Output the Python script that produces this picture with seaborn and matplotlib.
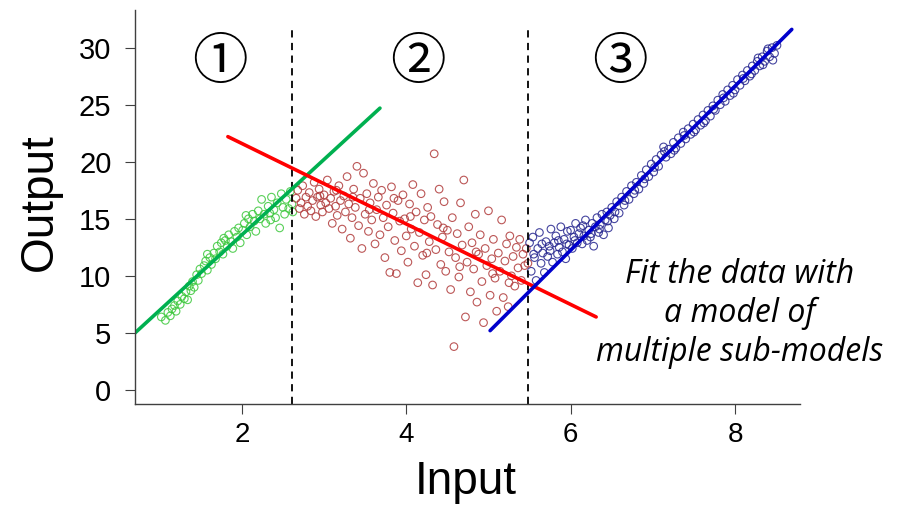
#=====================================================================================================
# Program Name     : PiecewiseSubModelFit
# Description      : Scatter of Input vs Output split into three regimes, each with its own
#                    straight-line sub-model, plus the dashed regime boundaries.
# Output           : out.png
#=====================================================================================================

import pandas as pd
import matplotlib
matplotlib.use("Agg")
import matplotlib.pyplot as plt
import seaborn as sns

# ---------------------------------------------------------------------------------------------------
# Data
# ---------------------------------------------------------------------------------------------------
green_x = [1.07, 1.02, 1.10, 1.13, 1.15, 1.18, 1.20, 1.22, 1.25, 1.27, 1.30, 1.32, 1.34, 1.36, 1.38,
           1.40, 1.42, 1.45, 1.47, 1.49, 1.51, 1.54, 1.56, 1.58, 1.61, 1.63, 1.66, 1.68, 1.70, 1.73,
           1.75, 1.77, 1.80, 1.82, 1.84, 1.87, 1.89, 1.91, 1.94, 1.96, 1.98, 2.01, 2.03, 2.06, 2.08,
           2.10, 2.13, 2.15, 2.17, 2.20, 2.22, 2.24, 2.27, 2.29, 2.32, 2.34, 2.36, 2.39, 2.41, 2.43,
           2.46, 2.48, 2.50, 2.52, 2.54, 2.57, 2.59, 2.61, 2.62, 1.58, 1.78, 2.05, 2.35]
green_y = [6.1, 6.4, 6.8, 6.5, 7.1, 7.4, 6.9, 7.8, 7.5, 8.2, 8.0, 8.6, 7.9, 9.1, 8.7,
           9.5, 9.0, 10.1, 9.6, 10.6, 10.2, 10.9, 11.3, 10.5, 11.6, 11.0, 12.0, 11.5, 12.6, 12.1,
           12.9, 11.9, 13.1, 12.6, 13.6, 13.0, 12.4, 13.9, 13.4, 14.2, 12.9, 14.0, 14.6, 13.6, 15.0,
           14.3, 15.4, 14.8, 13.9, 15.7, 15.0, 16.7, 15.4, 14.6, 16.1, 15.5, 16.9, 15.8, 15.1, 16.4,
           14.2, 17.2, 16.0, 15.4, 16.7, 15.9, 17.4, 16.3, 15.6, 11.9, 13.3, 15.3, 14.9]

red_x = [2.66, 2.68, 2.70, 2.72, 2.74, 2.76, 2.78, 2.80, 2.82, 2.84, 2.86, 2.88, 2.90, 2.92, 2.94,
         2.96, 2.98, 3.00, 3.02, 3.04, 3.06, 3.08, 3.10, 3.12, 3.14, 3.16, 3.18, 3.20, 3.22, 3.24,
         3.26, 3.28, 3.30, 3.32, 3.34, 3.36, 3.38, 3.40, 3.42, 3.44, 3.46, 3.48, 3.50, 3.52, 3.54,
         3.56, 3.58, 3.60, 3.62, 3.64, 3.66, 3.68, 3.70, 3.72, 3.74, 3.76, 3.78, 3.80, 3.82, 3.84,
         3.86, 3.88, 3.90, 3.92, 3.94, 3.96, 3.98, 4.00, 4.02, 4.04, 4.06, 4.08, 4.10, 4.12, 4.14,
         4.16, 4.18, 4.20, 4.22, 4.24, 4.26, 4.28, 4.30, 4.32, 4.34, 4.36, 4.38, 4.40, 4.42, 4.44,
         4.46, 4.48, 4.50, 4.52, 4.54, 4.56, 4.58, 4.60, 4.62, 4.64, 4.66, 4.68, 4.70, 4.72, 4.74,
         4.76, 4.78, 4.80, 4.82, 4.84, 4.86, 4.88, 4.90, 4.92, 4.94, 4.96, 4.98, 5.00, 5.02, 5.04,
         5.06, 5.08, 5.10, 5.12, 5.14, 5.16, 5.18, 5.20, 5.22, 5.24, 5.26, 5.28, 5.30, 5.32, 5.34,
         5.36, 5.38, 5.40, 5.42, 5.44, 5.46, 5.48, 3.15, 3.55, 3.85, 4.05, 4.25, 4.45, 4.65, 4.85,
         5.05, 5.25, 2.95, 3.35]
red_y = [16.8, 17.5, 15.9, 16.4, 17.9, 15.4, 16.9, 16.1, 17.3, 15.7, 16.6, 18.2, 15.2, 16.9, 17.6,
         16.2, 15.6, 17.1, 16.4, 18.4, 15.9, 16.8, 14.6, 17.4, 16.1, 15.3, 17.9, 16.6, 14.1, 17.0,
         15.6, 18.7, 16.3, 13.3, 15.1, 17.6, 16.0, 19.6, 14.4, 16.8, 12.4, 19.0, 15.4, 17.2, 13.9,
         16.4, 14.9, 18.1, 12.8, 15.8, 16.9, 13.6, 17.5, 15.1, 11.6, 16.2, 14.3, 10.3, 17.8, 15.5,
         13.1, 10.2, 16.6, 14.8, 12.2, 17.1, 15.0, 13.5, 11.2, 16.3, 14.1, 18.0, 12.6, 15.6, 9.4,
         13.8, 17.2, 11.8, 14.9, 10.1, 16.0, 13.0, 15.2, 9.2, 20.7, 12.3, 14.5, 17.6, 11.0, 13.4,
         16.5, 10.4, 14.0, 12.1, 8.8, 15.1, 3.8, 11.6, 13.7, 9.9, 16.4, 12.7, 18.4, 6.4, 11.2,
         14.3, 8.6, 12.9, 10.6, 15.4, 7.7, 11.9, 13.6, 9.5, 5.9, 12.4, 10.9, 15.7, 8.3, 11.5,
         13.2, 9.8, 6.9, 12.0, 10.4, 14.9, 8.1, 11.3, 12.8, 7.3, 13.5, 10.0, 11.7, 9.1, 12.5,
         10.7, 13.2, 9.6, 11.9, 10.9, 12.4, 11.1, 17.5, 15.8, 16.8, 15.2, 12.0, 14.2, 10.8, 12.1,
         10.2, 9.4, 17.0, 16.9]

blue_x = [5.50, 5.52, 5.54, 5.56, 5.58, 5.60, 5.62, 5.64, 5.66, 5.68, 5.70, 5.72, 5.74, 5.76, 5.78,
          5.80, 5.82, 5.84, 5.86, 5.88, 5.90, 5.92, 5.94, 5.96, 5.98, 6.00, 6.02, 6.04, 6.06, 6.08,
          6.10, 6.12, 6.14, 6.16, 6.18, 6.20, 6.22, 6.24, 6.26, 6.28, 6.30, 6.32, 6.34, 6.36, 6.38,
          6.40, 6.42, 6.44, 6.46, 6.48, 6.50, 6.53, 6.56, 6.59, 6.62, 6.65, 6.68, 6.71, 6.74, 6.77,
          6.80, 6.83, 6.86, 6.89, 6.92, 6.95, 6.98, 7.01, 7.04, 7.07, 7.10, 7.13, 7.16, 7.19, 7.22,
          7.25, 7.28, 7.31, 7.34, 7.37, 7.40, 7.43, 7.46, 7.49, 7.52, 7.55, 7.58, 7.61, 7.64, 7.67,
          7.70, 7.73, 7.76, 7.79, 7.82, 7.85, 7.88, 7.91, 7.94, 7.97, 8.00, 8.03, 8.06, 8.09, 8.12,
          8.15, 8.18, 8.21, 8.24, 8.27, 8.30, 8.33, 8.36, 8.39, 8.42, 8.45, 8.48, 8.51, 8.46, 8.40,
          8.34, 8.28, 8.20, 8.10, 7.98, 7.86, 7.74, 7.62, 7.50, 7.38, 7.26, 7.14, 7.02, 6.90, 6.78,
          6.66, 6.54, 6.45, 6.35, 6.25, 6.15, 6.05, 5.95, 5.85, 5.75, 5.65, 5.55]
blue_y = [12.9, 10.4, 13.4, 11.6, 9.6, 12.4, 13.8, 11.1, 12.0, 10.3, 13.0, 11.7, 12.6, 14.1, 11.2,
          12.9, 13.5, 11.9, 12.5, 14.3, 12.1, 13.2, 11.5, 13.9, 12.7, 14.0, 12.4, 13.4, 14.6, 12.9,
          13.7, 14.2, 12.8, 13.5, 14.9, 13.1, 14.0, 13.4, 14.6, 12.6, 14.3, 15.1, 13.8, 14.5, 15.4,
          13.6, 14.9, 15.6, 14.2, 15.3, 16.0, 15.0, 16.5, 15.5, 16.9, 16.2, 17.4, 16.7, 17.9, 17.2,
          18.2, 17.6, 18.8, 18.1, 19.3, 18.7, 19.8, 19.1, 20.2, 19.6, 20.6, 21.3, 20.4, 21.1, 20.7,
          21.7, 21.2, 22.1, 21.6, 22.6, 22.0, 22.9, 22.4, 23.3, 22.8, 23.7, 23.2, 24.1, 23.6, 24.5,
          24.0, 24.9, 24.5, 25.4, 25.0, 25.9, 25.3, 26.3, 25.8, 26.7, 26.3, 27.2, 26.7, 27.6, 27.1,
          28.0, 27.5, 28.4, 28.0, 28.8, 28.4, 29.2, 28.8, 29.7, 29.2, 30.0, 29.5, 30.2, 28.9, 29.9,
          28.5, 29.1, 27.7, 27.3, 26.0, 25.6, 24.6, 23.4, 22.6, 22.3, 21.0, 20.9, 19.5, 18.5, 17.5,
          16.6, 15.6, 14.8, 14.1, 13.7, 14.4, 13.1, 12.8, 13.1, 12.2, 12.8, 11.9]

# fitted sub-models (end points of each straight line)
green_line_x = [0.70, 3.68]
green_line_y = [5.0, 24.7]
red_line_x = [1.83, 6.31]
red_line_y = [22.2, 6.4]
blue_line_x = [5.02, 8.69]
blue_line_y = [5.2, 31.6]

boundaries = [2.61, 5.48]
region_labels = ["\u2460", "\u2461", "\u2462"]
region_label_x = [1.73, 4.14, 6.60]

#-----------------------------------------------------------------------------------------------------
# Function Name    : plot_sub_models
#-----------------------------------------------------------------------------------------------------
def plot_sub_models():
    sns.set_style("ticks")
    plt.rcParams["font.family"] = ["Liberation Sans", "DejaVu Sans"]

    fig = plt.figure(figsize=(9.06, 5.05), dpi=100)
    ax = fig.add_axes([135 / 906, 1 - 404 / 505, 665 / 906, 394 / 505])

    segments = [
        (green_x, green_y, "#3cc83c"),
        (red_x, red_y, "#b03a3a"),
        (blue_x, blue_y, "#25258f"),
    ]
    for xs, ys, col in segments:
        df = pd.DataFrame({"Input": xs, "Output": ys})
        sns.scatterplot(data=df, x="Input", y="Output", ax=ax, marker="o", s=30,
                        facecolors="none", edgecolor=col, linewidth=0.8, alpha=0.85)

    # dashed regime boundaries
    ax.vlines(boundaries, -1.23, 31.7, colors="black", linestyles=(0, (4, 3)), linewidth=1.3)

    lines = [
        (green_line_x, green_line_y, "#00b050"),
        (red_line_x, red_line_y, "#ff0000"),
        (blue_line_x, blue_line_y, "#0000cc"),
    ]
    for xs, ys, col in lines:
        sns.lineplot(x=xs, y=ys, ax=ax, color=col, linewidth=2.6)

    for lab, lx in zip(region_labels, region_label_x):
        ax.text(lx, 28.6, lab, ha="center", va="center", fontsize=40, color="black",
                family=["Noto Sans CJK JP", "DejaVu Sans"])

    ax.text(8.06, 6.7, "Fit the data with\na model of\nmultiple sub-models",
            ha="center", va="center", fontsize=23, style="italic", linespacing=1.25,
            color="black", family=["Open Sans", "Lato", "DejaVu Sans"])

    ax.set_xlim(0.70, 8.79)
    ax.set_ylim(-1.23, 33.3)
    ax.set_xticks([2, 4, 6, 8])
    ax.set_yticks([0, 5, 10, 15, 20, 25, 30])
    ax.set_xlabel("")
    ax.set_ylabel("")
    sns.despine(ax=ax)
    for side in ["left", "bottom"]:
        ax.spines[side].set_color("#404040")
        ax.spines[side].set_linewidth(1.0)
    ax.tick_params(axis="both", length=7, width=0.8, color="#404040",
                   labelcolor="black", labelsize=21)
    ax.tick_params(axis="y", pad=10)
    ax.tick_params(axis="x", pad=6, labelsize=20)

    fig.text(466 / 906, 0.002, "Input", ha="center", va="bottom", fontsize=33,
             color="black")
    fig.text(40 / 906, 1 - 202 / 505, "Output", ha="center", va="center", rotation=90,
             fontsize=33, color="black")

    fig.savefig("out.png", dpi=100)

def main():
    plot_sub_models()

if __name__ == "__main__":
    main()
